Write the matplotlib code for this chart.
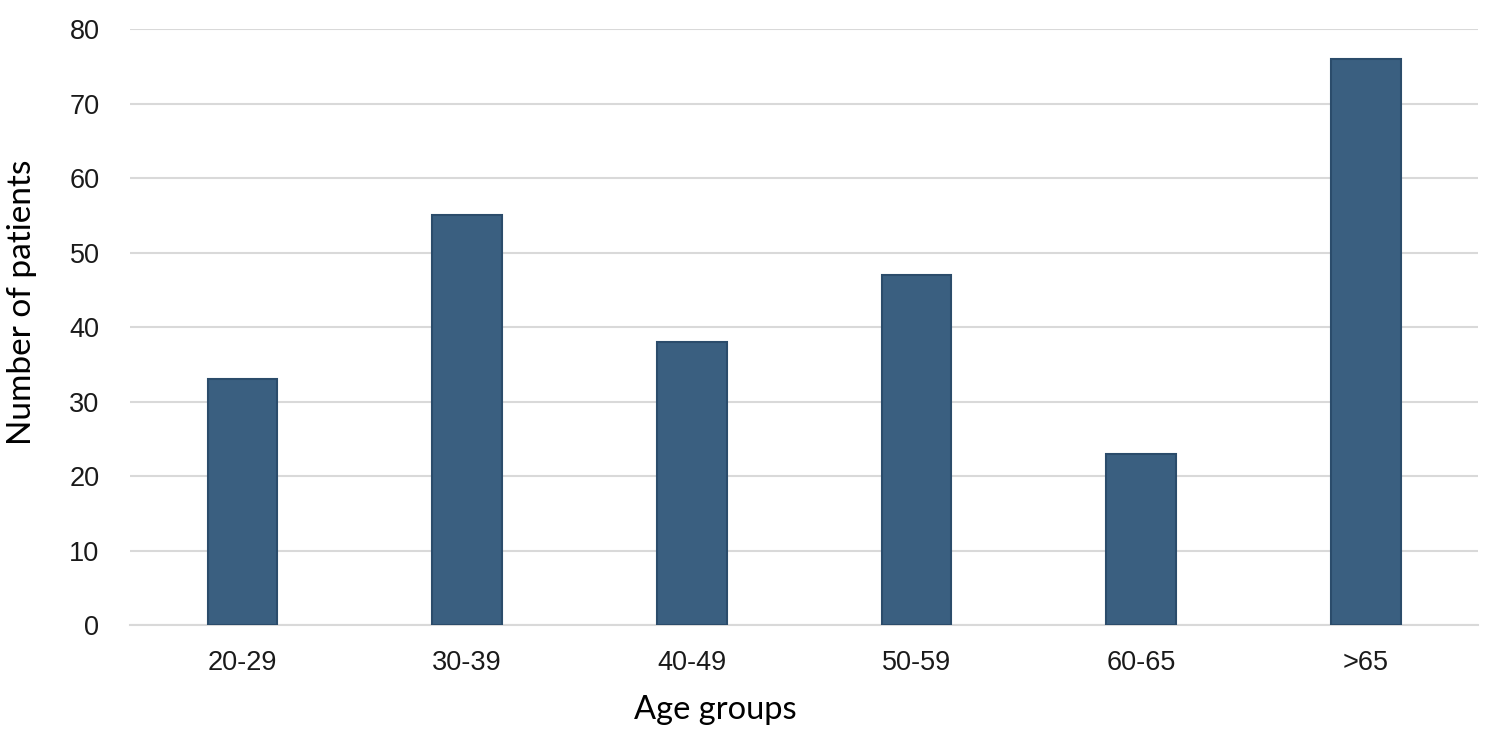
import matplotlib
matplotlib.use("Agg")
import matplotlib.pyplot as plt

# Patients per age group
age_groups = ["20-29", "30-39", "40-49", "50-59", "60-65", ">65"]
patients = [33, 55, 38, 47, 23, 76]
y_ticks = [0, 10, 20, 30, 40, 50, 60, 70, 80]

fig = plt.figure(figsize=(14.88, 7.31), dpi=100)
ax = fig.add_axes([0.0874, 0.145, 0.9059, 0.815])

ax.bar(range(len(age_groups)), patients, width=0.31,
       color="#3a5f80", edgecolor="#2b4c6b", linewidth=1.5, zorder=3)

ax.set_xlim(-0.5, len(age_groups) - 0.5)
ax.set_ylim(0, 80)
ax.set_yticks(y_ticks)
ax.set_xticks(range(len(age_groups)))
ax.set_xticklabels(age_groups)

ax.grid(axis="y", color="#d9d9d9", linewidth=1.5, zorder=0)
for side in ["top", "right", "left"]:
    ax.spines[side].set_visible(False)
ax.spines["bottom"].set_color("#d9d9d9")
ax.spines["bottom"].set_linewidth(1.5)
ax.tick_params(axis="both", length=0, labelsize=19.5, labelcolor="#1a1a1a")
ax.tick_params(axis="y", pad=22)
ax.tick_params(axis="x", pad=18)
for lab in ax.get_xticklabels() + ax.get_yticklabels():
    lab.set_fontfamily("Liberation Sans")

ax.set_xlabel("Age groups", fontsize=23.5, family="Lato", labelpad=12)
ax.set_ylabel("Number of patients", fontsize=24, family="Lato", labelpad=16)
# the reference labels sit a bit off the axes centre
ax.xaxis.set_label_coords(0.434, -0.117)
ax.yaxis.set_label_coords(-0.069, 0.542)

fig.savefig("out.png", dpi=100, facecolor="white")
